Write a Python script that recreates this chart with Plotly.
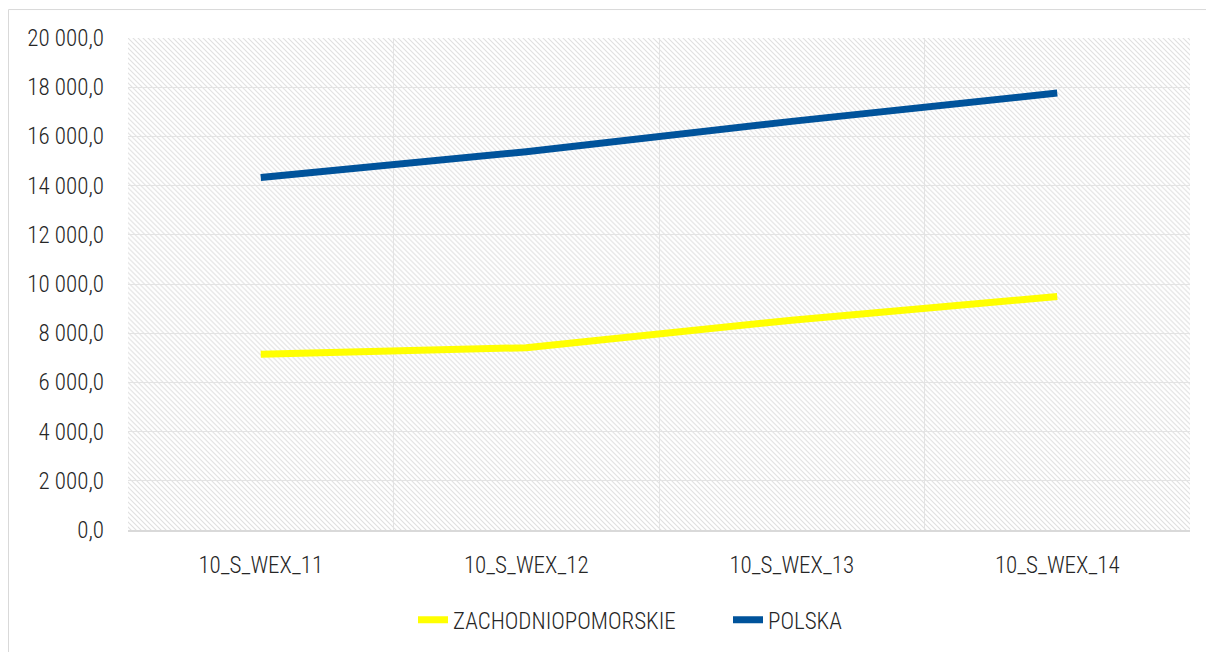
import base64
import plotly.graph_objects as go

categories = ["10_S_WEX_11", "10_S_WEX_12", "10_S_WEX_13", "10_S_WEX_14"]
zachodniopomorskie = [7140, 7410, 8530, 9490]
polska = [14330, 15380, 16610, 17760]
y_tick_values = [0, 2000, 4000, 6000, 8000, 10000, 12000, 14000, 16000, 18000, 20000]
y_tick_labels = ["0,0", "2 000,0", "4 000,0", "6 000,0", "8 000,0", "10 000,0",
                 "12 000,0", "14 000,0", "16 000,0", "18 000,0", "20 000,0"]

# page has an 8px body margin, so figure coordinates = screen - 8
W, H = 1206, 644
ML, MT = 120, 30
PW = 1062
PH = 493
MR = W - ML - PW
MB = H - MT - PH

FONT = "Roboto Condensed, Liberation Sans Narrow, Roboto, sans-serif"
TEXT = "#262626"
FS = 23

svg = (
    f'<svg xmlns="http://www.w3.org/2000/svg" width="{PW}" height="{PH}">'
    '<defs><pattern id="p" width="5" height="5" patternUnits="userSpaceOnUse">'
    '<path d="M-1,-1 L6,6 M-1,4 L1,6 M4,-1 L6,1" stroke="#e0e0e0" stroke-width="1.1"/>'
    '</pattern></defs>'
    f'<rect width="{PW}" height="{PH}" fill="#ffffff"/>'
    f'<rect width="{PW}" height="{PH}" fill="url(#p)"/></svg>'
)
svg_uri = "data:image/svg+xml;base64," + base64.b64encode(svg.encode()).decode()

fig = go.Figure()
fig.add_trace(go.Scatter(
    x=categories, y=zachodniopomorskie, name="ZACHODNIOPOMORSKIE",
    mode="lines", line=dict(color="#FFFF00", width=7),
))
fig.add_trace(go.Scatter(
    x=categories, y=polska, name="POLSKA",
    mode="lines", line=dict(color="#00539B", width=7),
))

fig.update_layout(
    width=W, height=H,
    margin=dict(l=ML, r=MR, t=MT, b=MB),
    paper_bgcolor="white",
    plot_bgcolor="white",
    font=dict(family=FONT, size=FS, color=TEXT, weight=300),
    showlegend=True,
    legend=dict(
        orientation="h", x=(413 - 8 - ML) / PW, xanchor="left", y=-0.18, yanchor="middle",
        font=dict(family=FONT, size=FS, color=TEXT, weight=300),
        traceorder="normal", entrywidth=270, entrywidthmode="pixels",
    ),
    images=[dict(
        source=svg_uri, xref="paper", yref="paper", x=0, y=1,
        sizex=1, sizey=1, xanchor="left", yanchor="top",
        sizing="stretch", layer="below",
    )],
    shapes=[dict(
        type="rect", xref="paper", yref="paper",
        x0=(0.5 - ML) / PW, x1=1.1, y0=-0.4, y1=(MT + PH - 1.5) / PH,
        line=dict(color="#d9d9d9", width=1), fillcolor="rgba(0,0,0,0)",
        layer="below",
    )],
)

fig.update_xaxes(
    type="category", range=[-0.5, 3.5], tickson="boundaries",
    showgrid=True, gridcolor="#e3e3e3", gridwidth=1,
    showline=True, linecolor="#d9d9d9", linewidth=2,
    ticks="", ticklen=0, tickfont=dict(family=FONT, size=FS, color=TEXT, weight=300),
    mirror=False, zeroline=False, ticklabelstandoff=13,
)
fig.update_yaxes(
    range=[0, 20000], tickvals=y_tick_values, ticktext=y_tick_labels,
    showgrid=True, gridcolor="#e3e3e3", gridwidth=1,
    showline=False, zeroline=False, ticks="",
    tickfont=dict(family=FONT, size=FS, color=TEXT, weight=300),
    ticklabelstandoff=23,
)

fig.write_html("out.html")
